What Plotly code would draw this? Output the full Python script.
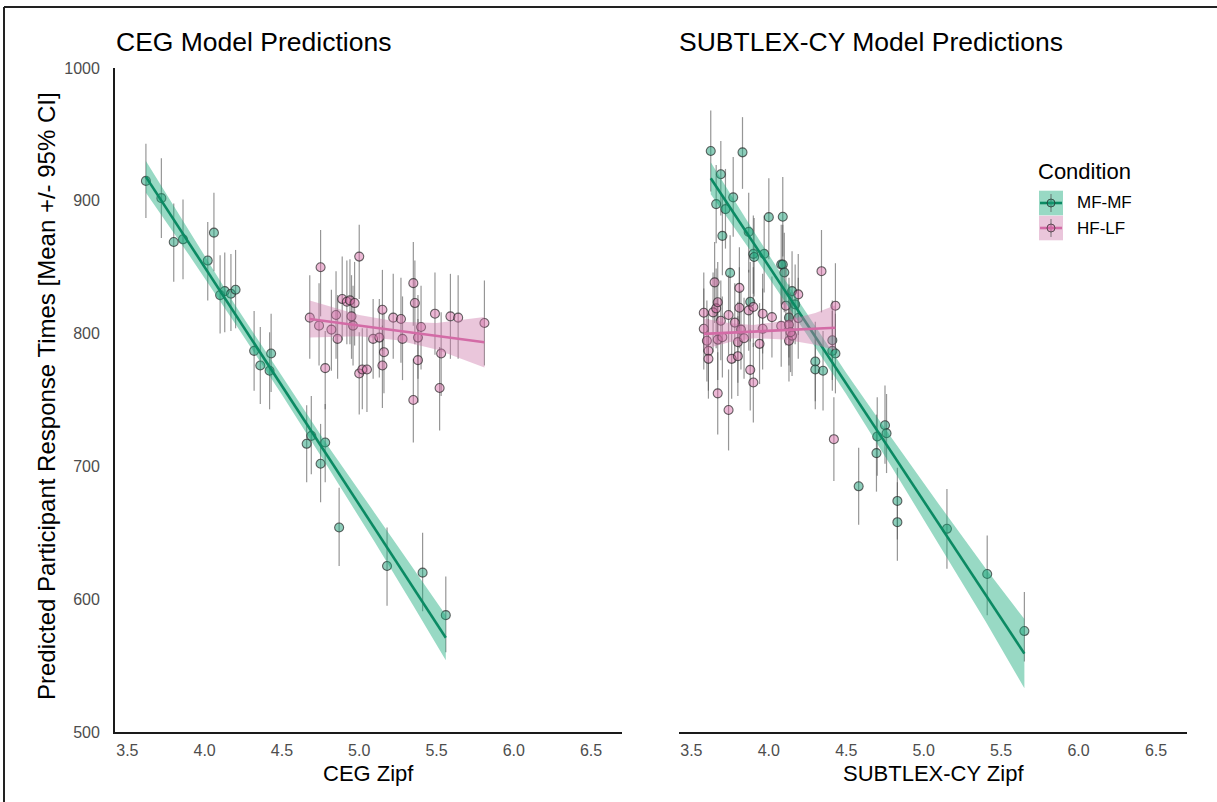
import plotly.graph_objects as go

# ---------------- data ----------------
# CEG panel, MF-MF condition (points with 95% CI)
ceg_mf_x = [3.62, 3.72, 3.80, 3.86, 4.02, 4.06, 4.10, 4.13, 4.17, 4.20, 4.32, 4.36, 4.42, 4.43,
            4.66, 4.69, 4.75, 4.78, 4.87, 5.18, 5.41, 5.56]
ceg_mf_y = [915, 902, 869, 871, 855, 876, 829, 832, 830, 833, 787, 776, 772, 785,
            717, 723, 702, 718, 654, 625, 620, 588]
ceg_mf_lo = [887, 872, 839, 841, 825, 847, 800, 801, 802, 804, 757, 747, 743, 756,
             688, 694, 673, 688, 625, 595, 591, 560]
ceg_mf_hi = [943, 932, 898, 901, 884, 906, 859, 861, 860, 863, 817, 805, 801, 815,
             746, 753, 732, 747, 684, 654, 650, 617]

# CEG panel, HF-LF condition
ceg_hf_x = [4.68, 4.74, 4.75, 4.78, 4.82, 4.85, 4.86, 4.89, 4.92, 4.94, 4.97, 4.95, 4.96,
            5.00, 5.00, 5.02, 5.05, 5.09, 5.13, 5.15, 5.16, 5.15, 5.22, 5.27, 5.28, 5.35,
            5.36, 5.38, 5.40, 5.38, 5.35, 5.49, 5.53, 5.52, 5.59, 5.64, 5.81]
ceg_hf_y = [812, 806, 850, 774, 803, 814, 796, 826, 824, 825, 823, 813, 806,
            858, 770, 773, 773, 796, 797, 818, 786, 776, 812, 811, 796, 838,
            823, 797, 805, 780, 750, 815, 785, 759, 813, 812, 808]
ceg_hf_lo = [781, 776, 813, 743, 772, 781, 766, 795, 792, 792, 791, 781, 776,
             826, 739, 743, 741, 766, 767, 787, 755, 744, 781, 778, 765, 806,
             792, 766, 773, 748, 718, 784, 753, 727, 781, 781, 776]
ceg_hf_hi = [844, 838, 878, 802, 833, 847, 829, 858, 855, 856, 854, 844, 836,
             882, 801, 804, 804, 826, 826, 848, 816, 806, 845, 842, 828, 869,
             855, 829, 836, 811, 781, 846, 816, 790, 845, 844, 840]

# CEG panel fitted lines with 95% CI ribbons
ceg_mf_fit_x = [3.62, 3.90, 4.20, 4.50, 4.80, 5.10, 5.35, 5.56]
ceg_mf_fit_y = [918, 868, 814, 761, 707, 654, 609, 571]
ceg_mf_fit_lo = [906, 859, 807, 754, 699, 643, 595, 554]
ceg_mf_fit_hi = [930, 877, 821, 768, 715, 665, 623, 588]

ceg_hf_fit_x = [4.68, 5.00, 5.25, 5.50, 5.81]
ceg_hf_fit_y = [811, 806, 802, 798, 793.5]
ceg_hf_fit_lo = [797, 798, 795, 788, 774.5]
ceg_hf_fit_hi = [825, 814, 809, 808, 812.5]

# SUBTLEX-CY panel, MF-MF condition
sub_mf_x = [3.625, 3.83, 3.69, 3.66, 3.72, 3.77, 3.70, 4.00, 4.09, 3.87, 3.90, 3.905, 3.97,
            3.75, 4.08, 4.09, 4.10, 4.15, 3.88, 4.13, 4.17, 4.41, 4.41, 4.43, 4.30, 4.30,
            4.35, 4.58, 4.70, 4.695, 4.75, 4.76, 4.83, 4.83, 5.15, 5.41, 5.65]
sub_mf_y = [937.5, 936.5, 920, 897.5, 893.7, 902.6, 873.6, 887.7, 888, 876.6, 860, 857.7, 860,
            845.7, 852, 852, 846, 832, 824, 812, 822, 795, 787, 785, 779, 773,
            772, 685, 722.5, 710, 731, 725, 674, 658, 653, 619, 576]
sub_mf_lo = [907, 909, 889, 868, 864, 873, 844, 856, 858, 846, 830, 828, 831,
             816, 822, 822, 816, 802, 794, 782, 792, 765, 757, 755, 749, 743,
             742, 656, 693, 681, 702, 695, 645, 629, 623, 588, 553]
sub_mf_hi = [968, 963, 945, 927, 924, 933, 904, 917, 918, 906, 889, 887, 889,
             874, 882, 882, 876, 862, 854, 842, 852, 825, 817, 815, 809, 803,
             802, 714, 752, 739, 761, 754.5, 699, 688, 683, 648, 605.5]

# SUBTLEX-CY panel, HF-LF condition
sub_hf_x = [3.58, 3.64, 3.66, 3.67, 3.74, 3.69, 3.81, 3.87, 3.90, 3.96, 4.02, 3.78, 4.08, 4.13,
            4.19, 4.11, 4.19, 3.58, 3.60, 3.61, 3.61, 3.67, 3.70, 3.82, 3.80, 3.84, 3.76, 3.80,
            3.94, 3.96, 4.13, 4.15, 4.14, 3.88, 3.90, 3.67, 3.74, 4.42, 4.43, 3.65, 3.81, 4.34]
sub_hf_y = [815.7, 816, 819, 823.6, 814, 809.7, 819.5, 817.5, 820, 815, 812.4, 808.3, 805.8, 806.6,
            811.7, 821, 829.5, 803.6, 794.6, 787, 781, 795.5, 797.3, 803, 793.6, 796.5, 781, 783,
            792.3, 803.6, 794.6, 798.5, 801, 772.7, 763.2, 755, 742.5, 720.5, 821, 838.6, 834.4, 847]
sub_hf_lo = [786, 786, 789, 793, 784, 780, 789, 787, 790, 785, 782, 778, 775, 776,
             781, 791, 799, 773, 764, 757, 751, 765, 767, 773, 763, 766, 751, 753,
             762, 773, 764, 768, 771, 742, 733, 724, 712, 689, 790, 808, 804, 816]
sub_hf_hi = [846, 846, 849, 854, 844, 840, 850, 848, 850, 845, 843, 838, 836, 837,
             842, 851, 860, 834, 825, 817, 811, 826, 828, 833, 824, 827, 811, 813,
             823, 834, 825, 829, 831, 803, 793, 786, 773, 752, 853, 869, 865, 878]

# SUBTLEX-CY panel fitted lines with 95% CI ribbons
sub_mf_fit_x = [3.625, 3.90, 4.20, 4.50, 4.80, 5.10, 5.40, 5.65]
sub_mf_fit_y = [917, 868.4, 815.3, 762.3, 709.3, 656.2, 603.2, 559]
sub_mf_fit_lo = [905, 859.4, 807.3, 754.3, 698.3, 641.2, 583.2, 533]
sub_mf_fit_hi = [929, 877.4, 823.3, 770.3, 720.3, 671.2, 623.2, 585]

sub_hf_fit_x = [3.58, 3.75, 3.90, 4.10, 4.30, 4.43]
sub_hf_fit_y = [799.8, 800.7, 801.5, 802.5, 803.6, 804.4]
sub_hf_fit_lo = [788.3, 793.7, 796.5, 795.5, 791.6, 787.4]
sub_hf_fit_hi = [811.3, 807.7, 806.5, 809.5, 815.6, 821.4]

panel_titles = ["CEG Model Predictions", "SUBTLEX-CY Model Predictions"]
x_titles = ["CEG Zipf", "SUBTLEX-CY Zipf"]
y_title = "Predicted Participant Response Times [Mean +/- 95% CI]"
conditions = ["MF-MF", "HF-LF"]
x_ticks = [3.5, 4.0, 4.5, 5.0, 5.5, 6.0, 6.5]
y_ticks = [500, 600, 700, 800, 900, 1000]

# ---------------- style ----------------
W, H = 1217, 802
ML, MR, MT, MB = 115, 30, 68, 70
PW, PH = W - ML - MR, H - MT - MB
FONT = "Liberation Sans, Arial, sans-serif"

GREEN_LINE = "#0b8a63"
GREEN_FILL = "rgba(27,170,125,0.45)"
GREEN_PT = "rgba(27,158,119,0.5)"
PINK_LINE = "#d36ba6"
PINK_FILL = "rgba(205,120,170,0.42)"
PINK_PT = "rgba(215,100,165,0.45)"
EDGE = "rgba(40,40,40,0.7)"
ERR = "rgba(80,80,80,0.6)"


def px(x):
    return (x - ML) / PW


def py(y):
    return 1 - (y - MT) / PH


fig = go.Figure()


def add_points(x, y, lo, hi, fill, xa, ya):
    fig.add_trace(go.Scatter(
        x=x, y=y, mode="markers", xaxis=xa, yaxis=ya, showlegend=False,
        error_y=dict(type="data", symmetric=False,
                     array=[h - v for h, v in zip(hi, y)],
                     arrayminus=[v - l for v, l in zip(y, lo)],
                     color=ERR, thickness=1.2, width=0),
        marker=dict(size=9, color=fill, line=dict(color=EDGE, width=1.1)),
        hoverinfo="skip"))


def add_fit(x, y, lo, hi, line_c, fill_c, xa, ya):
    fig.add_trace(go.Scatter(x=x, y=lo, mode="lines", line=dict(width=0),
                             xaxis=xa, yaxis=ya, showlegend=False, hoverinfo="skip"))
    fig.add_trace(go.Scatter(x=x, y=hi, mode="lines", line=dict(width=0),
                             fill="tonexty", fillcolor=fill_c,
                             xaxis=xa, yaxis=ya, showlegend=False, hoverinfo="skip"))
    fig.add_trace(go.Scatter(x=x, y=y, mode="lines", line=dict(color=line_c, width=2.6),
                             xaxis=xa, yaxis=ya, showlegend=False, hoverinfo="skip"))


# left panel
add_points(ceg_mf_x, ceg_mf_y, ceg_mf_lo, ceg_mf_hi, GREEN_PT, "x", "y")
add_points(ceg_hf_x, ceg_hf_y, ceg_hf_lo, ceg_hf_hi, PINK_PT, "x", "y")
add_fit(ceg_mf_fit_x, ceg_mf_fit_y, ceg_mf_fit_lo, ceg_mf_fit_hi, GREEN_LINE, GREEN_FILL, "x", "y")
add_fit(ceg_hf_fit_x, ceg_hf_fit_y, ceg_hf_fit_lo, ceg_hf_fit_hi, PINK_LINE, PINK_FILL, "x", "y")

# right panel
add_points(sub_mf_x, sub_mf_y, sub_mf_lo, sub_mf_hi, GREEN_PT, "x2", "y2")
add_points(sub_hf_x, sub_hf_y, sub_hf_lo, sub_hf_hi, PINK_PT, "x2", "y2")
add_fit(sub_mf_fit_x, sub_mf_fit_y, sub_mf_fit_lo, sub_mf_fit_hi, GREEN_LINE, GREEN_FILL, "x2", "y2")
add_fit(sub_hf_fit_x, sub_hf_fit_y, sub_hf_fit_lo, sub_hf_fit_hi, PINK_LINE, PINK_FILL, "x2", "y2")

xr = [3.42, 6.70]
yr = [500, 1000]
xaxis_common = dict(range=xr, tickvals=x_ticks, ticktext=[f"{t:.1f}" for t in x_ticks],
                    showgrid=False, zeroline=False, showline=True, linecolor="#1a1a1a",
                    linewidth=2.2, ticks="", tickfont=dict(size=16, color="#4d4d4d", family=FONT),
                    ticklabelstandoff=3)

fig.update_layout(
    width=W, height=H, margin=dict(l=ML, r=MR, t=MT, b=MB),
    paper_bgcolor="white", plot_bgcolor="white", showlegend=False,
    font=dict(family=FONT),
    xaxis=dict(domain=[0, px(622)], anchor="y", **xaxis_common),
    xaxis2=dict(domain=[px(679), 1], anchor="y2", **xaxis_common),
    yaxis=dict(domain=[0, 1], range=yr, tickvals=y_ticks, showgrid=False, zeroline=False,
               showline=True, linecolor="#1a1a1a", linewidth=1.8, ticks="",
               tickfont=dict(size=16, color="#4d4d4d", family=FONT), ticklabelstandoff=10),
    yaxis2=dict(domain=[0, 1], range=yr, anchor="x2", showgrid=False, zeroline=False,
                showline=False, showticklabels=False, ticks=""),
)

ann = []
# panel titles
ann.append(dict(text=panel_titles[0], x=px(114), y=py(42), xref="paper", yref="paper",
                xanchor="left", yanchor="middle", showarrow=False,
                font=dict(size=26.5, color="black", family=FONT)))
ann.append(dict(text=panel_titles[1], x=px(677), y=py(42), xref="paper", yref="paper",
                xanchor="left", yanchor="middle", showarrow=False,
                font=dict(size=26.5, color="black", family=FONT)))
# axis titles
ann.append(dict(text=x_titles[0], x=px((115 + 622) / 2), y=py(774), xref="paper", yref="paper",
                xanchor="center", yanchor="middle", showarrow=False,
                font=dict(size=22, color="black", family=FONT)))
ann.append(dict(text=x_titles[1], x=px((679 + 1187) / 2), y=py(774), xref="paper", yref="paper",
                xanchor="center", yanchor="middle", showarrow=False,
                font=dict(size=22, color="black", family=FONT)))
ann.append(dict(text=y_title, x=px(47), y=py(396), xref="paper", yref="paper",
                xanchor="center", yanchor="middle", showarrow=False, textangle=-90,
                font=dict(size=24, color="black", family=FONT)))

# manual legend
ann.append(dict(text="Condition", x=px(1036), y=py(171), xref="paper", yref="paper",
                xanchor="left", yanchor="middle", showarrow=False,
                font=dict(size=22, color="black", family=FONT)))
shapes = []
leg_items = [(conditions[0], 203, GREEN_LINE, GREEN_FILL, GREEN_PT),
             (conditions[1], 228, PINK_LINE, PINK_FILL, PINK_PT)]
for name, cy, lc, fc, pc in leg_items:
    shapes.append(dict(type="rect", xref="paper", yref="paper",
                       x0=px(1039), x1=px(1063), y0=py(cy - 12.3), y1=py(cy + 12.3),
                       fillcolor=fc, line=dict(width=0)))
    shapes.append(dict(type="line", xref="paper", yref="paper",
                       x0=px(1051), x1=px(1051), y0=py(cy - 9), y1=py(cy + 9),
                       line=dict(color=ERR, width=1.2)))
    shapes.append(dict(type="line", xref="paper", yref="paper",
                       x0=px(1040), x1=px(1062), y0=py(cy), y1=py(cy),
                       line=dict(color=lc, width=2.6)))
    shapes.append(dict(type="circle", xref="paper", yref="paper",
                       x0=px(1047), x1=px(1055), y0=py(cy - 4), y1=py(cy + 4),
                       fillcolor=pc, line=dict(color=EDGE, width=1)))
    ann.append(dict(text=name, x=px(1075), y=py(cy), xref="paper", yref="paper",
                    xanchor="left", yanchor="middle", showarrow=False,
                    font=dict(size=17, color="black", family=FONT)))

# outer frame (left and top edges)
shapes.append(dict(type="line", xref="paper", yref="paper", x0=px(4), x1=px(4),
                   y0=py(7), y1=py(805), line=dict(color="#222222", width=2)))
shapes.append(dict(type="line", xref="paper", yref="paper", x0=px(4), x1=px(1220),
                   y0=py(7), y1=py(7), line=dict(color="#222222", width=2)))

fig.update_layout(annotations=ann, shapes=shapes)
fig.write_html("out.html")
